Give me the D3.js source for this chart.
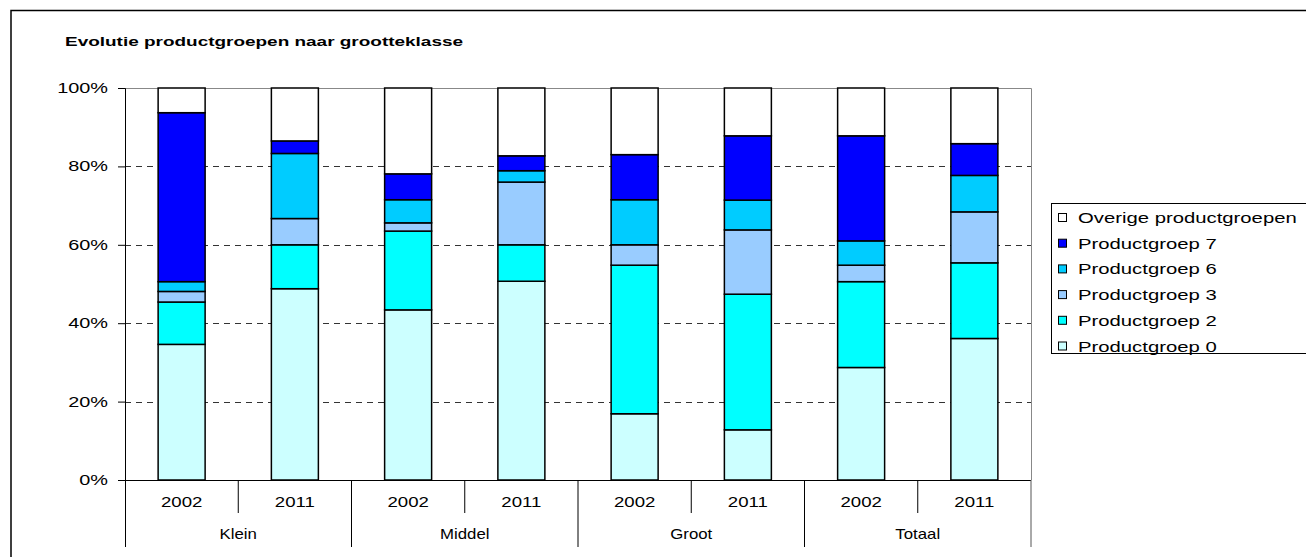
<!DOCTYPE html>
<html><head><meta charset="utf-8">
<script src="https://cdn.jsdelivr.net/npm/d3@7"></script>
<style>body{margin:0;background:#fff}svg{display:block;font-family:Arial,"Liberation Sans",sans-serif}</style>
</head><body><svg id="c" width="1306" height="557"></svg>
<script>
const groups = ["Klein","Middel","Groot","Totaal"];
const years = ["2002","2011"];
const seriesNames = ["Productgroep 0","Productgroep 2","Productgroep 3","Productgroep 6","Productgroep 7","Overige productgroepen"];
const seriesColors = ["#CCFFFF","#00FFFF","#99CCFF","#00CCFF","#0000FF","#FFFFFF"];
// values per bar (Klein 2002, Klein 2011, Middel 2002, ...), in %
const pg0    = [34.6, 48.8, 43.4, 50.7, 16.9, 12.8, 28.7, 36.1];
const pg2    = [10.8, 11.2, 20.1,  9.3, 37.9, 34.6, 21.9, 19.3];
const pg3    = [ 2.7,  6.7,  2.1, 16.0,  5.2, 16.4,  4.2, 13.0];
const pg6    = [ 2.5, 16.6,  5.9,  2.9, 11.5,  7.6,  6.2,  9.3];
const pg7    = [43.1,  3.2,  6.6,  3.8, 11.5, 16.4, 26.8,  8.1];
const overig = [ 6.3, 13.5, 21.9, 17.3, 17.0, 12.2, 12.2, 14.2];
const yTicks = [0,20,40,60,80,100];

const svg = d3.select("#c");
const L=125, R=1031, T=88, B=480;
const bars = [];
groups.forEach(g=>years.forEach(y=>bars.push(g+"|"+y)));
const table = bars.map((k,i)=>({key:k, s0:pg0[i], s1:pg2[i], s2:pg3[i], s3:pg6[i], s4:pg7[i], s5:overig[i]}));
const keys = ["s0","s1","s2","s3","s4","s5"];
const stack = d3.stack().keys(keys).offset(d3.stackOffsetExpand)(table);

const x = d3.scaleBand().domain(bars).range([L,R]).paddingInner(0.585).paddingOuter(0.2925);
const xg = d3.scaleBand().domain(groups).range([L,R]);
const yS = d3.scaleLinear().domain([0,1]).range([B,T]);

// stretched text helper (reference text is horizontally widened)
function stext(parent, tx, ty, str, opts){
  opts = opts||{};
  const g = parent.append("g").attr("transform",`translate(${tx},${ty}) scale(${opts.sx||1.38},1)`);
  return g.append("text").attr("x",0).attr("y",0).attr("font-size",opts.size||14)
    .attr("text-anchor",opts.anchor||"start").attr("font-weight",opts.weight||"normal").text(str);
}

// outer frame
svg.append("path").attr("d","M11,560 V10.5 H1310").attr("fill","none").attr("stroke","#000").attr("stroke-width",1.5);

// title
svg.append("text").attr("x",65).attr("y",46).attr("font-size",13).attr("font-weight","bold")
  .attr("textLength",398).attr("lengthAdjust","spacingAndGlyphs").text("Evolutie productgroepen naar grootteklasse");

// gridlines
svg.append("g").selectAll("line").data(yTicks.filter(t=>t>0&&t<100)).join("line")
  .attr("x1",L).attr("x2",R).attr("y1",d=>Math.round(yS(d/100))+0.5).attr("y2",d=>Math.round(yS(d/100))+0.5)
  .attr("stroke","#333").attr("stroke-dasharray","6,5");
// plot area border (top + right)
svg.append("path").attr("d",`M${L},${T+0.5} H${R+0.5} V${B}`).attr("fill","none").attr("stroke","#888");

// bars
svg.append("g").selectAll("g").data(stack).join("g")
  .attr("fill",(d,i)=>seriesColors[i])
  .selectAll("rect").data(d=>d).join("rect")
  .attr("x",d=>x(d.data.key)).attr("width",x.bandwidth())
  .attr("y",d=>yS(d[1])).attr("height",d=>yS(d[0])-yS(d[1]))
  .attr("stroke","#000").attr("stroke-width",1.5);

// y axis
const yLin = d3.scaleLinear().domain([0,100]).range([B,T]);
const yAxis = d3.axisLeft(yLin).tickValues(yTicks).tickFormat("").tickSize(7);
const ya = svg.append("g").attr("transform",`translate(${L},0)`).call(yAxis);
ya.select(".domain").attr("stroke","#000");
yTicks.forEach(t=>stext(svg, 108, yLin(t)+5, t+"%", {anchor:"end", sx:1.42}));

// x axis: baseline
svg.append("line").attr("x1",L).attr("x2",R).attr("y1",B+0.5).attr("y2",B+0.5).attr("stroke","#000");
// left axis extension to bottom
svg.append("line").attr("x1",L+0.5).attr("x2",L+0.5).attr("y1",B).attr("y2",547).attr("stroke","#000");
// year separators
const step = x.step();
svg.append("g").selectAll("line").data(bars).join("line")
  .attr("x1",d=>x(d)+x.bandwidth()/2+step/2).attr("x2",d=>x(d)+x.bandwidth()/2+step/2)
  .attr("y1",B).attr("y2",(d,i)=>i%2===1?547:513).attr("stroke",(d,i)=>i===bars.length-1?"#555":"#000");
// year labels
bars.forEach(d=>stext(svg, x(d)+x.bandwidth()/2, 507, d.split("|")[1], {anchor:"middle", sx:1.33}));
// group labels
groups.forEach(d=>stext(svg, xg(d)+xg.bandwidth()/2, 539, d, {anchor:"middle", sx:1.2}));

// legend
const lg = svg.append("g");
lg.append("rect").attr("x",1051.5).attr("y",203.5).attr("width",270).attr("height",150).attr("fill","#fff").attr("stroke","#000");
const order = [5,4,3,2,1,0];
order.forEach((si,j)=>{
  const yy = 218 + j*25.7;
  lg.append("rect").attr("x",1058.5).attr("y",yy-4.5).attr("width",8).attr("height",8)
    .attr("fill",seriesColors[si]).attr("stroke","#000");
  stext(lg, 1078, yy+5, seriesNames[si], {sx:1.45});
});
</script></body></html>
